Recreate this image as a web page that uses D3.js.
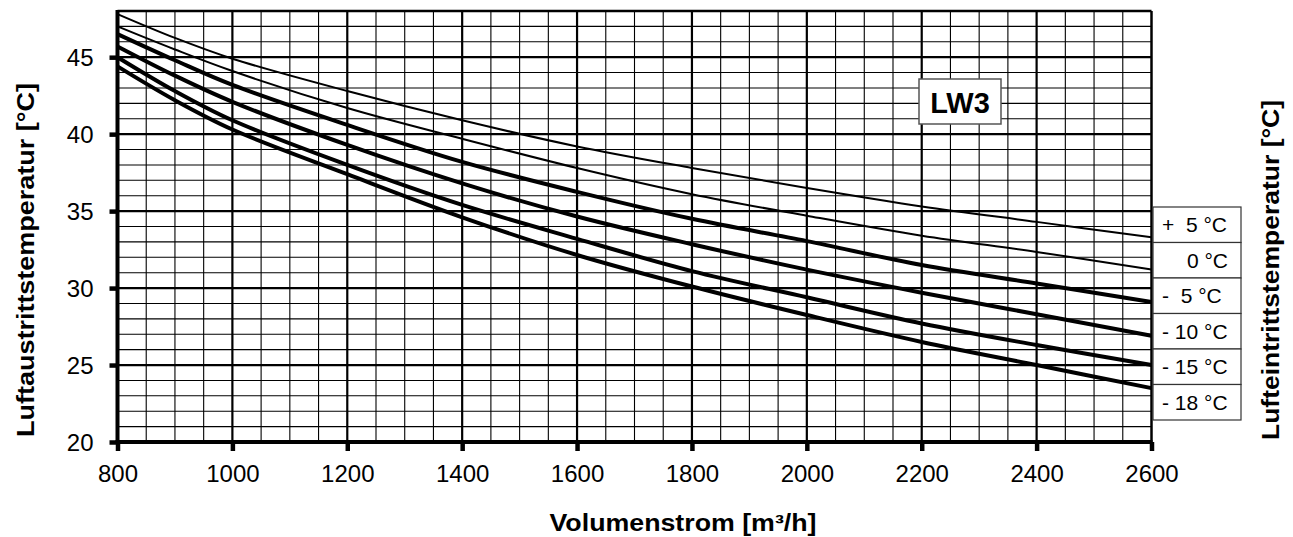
<!DOCTYPE html>
<html>
<head>
<meta charset="utf-8">
<script src="https://cdn.jsdelivr.net/npm/d3@7"></script>
<style>
  html, body { margin: 0; padding: 0; background: #fff; }
  svg { display: block; }
  text { font-family: "Liberation Sans", Arial, Helvetica, sans-serif; fill: #000; }
</style>
</head>
<body>
<svg id="chart" width="1293" height="537"></svg>
<script>
// ---- data ----
const flows = [800, 900, 1000, 1200, 1400, 1600, 1800, 2000, 2200, 2400, 2600];
const seriesPlus5   = [47.8, 46.25, 44.9, 42.8, 40.9, 39.2, 37.8, 36.5, 35.3, 34.3, 33.3];
const seriesZero    = [47.0, 45.5, 44.1, 41.7, 39.7, 37.8, 36.1, 34.7, 33.4, 32.35, 31.2];
const seriesMinus5  = [46.5, 44.8, 43.2, 40.6, 38.2, 36.25, 34.5, 33.05, 31.5, 30.3, 29.1];
const seriesMinus10 = [45.7, 43.8, 42.1, 39.3, 36.8, 34.65, 32.85, 31.2, 29.7, 28.3, 26.9];
const seriesMinus15 = [45.0, 42.8, 40.9, 38.0, 35.4, 33.2, 31.1, 29.4, 27.7, 26.3, 25.0];
const seriesMinus18 = [44.4, 42.2, 40.3, 37.4, 34.6, 32.15, 30.1, 28.25, 26.5, 25.0, 23.5];
const legendLabels = ["+  5 °C", "0 °C", "-  5 °C", "- 10 °C", "- 15 °C", "- 18 °C"];
const xTicks = [800, 1000, 1200, 1400, 1600, 1800, 2000, 2200, 2400, 2600];
const yTicks = [20, 25, 30, 35, 40, 45];
const xLabel = "Volumenstrom [m³/h]";
const yLabelLeft = "Luftaustrittstemperatur [°C]";
const yLabelRight = "Lufteintrittstemperatur [°C]";
const boxLabel = "LW3";

// ---- build ----
const series = [seriesPlus5, seriesZero, seriesMinus5, seriesMinus10, seriesMinus15, seriesMinus18];
const widths = [2, 2, 4, 4, 4, 4];

const svg = d3.select("#chart");
const x = d3.scaleLinear().domain([800, 2600]).range([117.5, 1151.5]);
const y = d3.scaleLinear().domain([20, 48]).range([442, 11]);

const grid = svg.append("g");
// minor grid
grid.selectAll("line.vmin").data(d3.range(850, 2600, 50).filter(v => v % 200 !== 0))
  .join("line").attr("x1", d => x(d)).attr("x2", d => x(d)).attr("y1", y(48)).attr("y2", y(20))
  .attr("stroke", "#000").attr("stroke-width", 1.1);
grid.selectAll("line.hmin").data(d3.range(21, 48, 1).filter(v => v % 5 !== 0))
  .join("line").attr("y1", d => y(d)).attr("y2", d => y(d)).attr("x1", x(800)).attr("x2", x(2600))
  .attr("stroke", "#000").attr("stroke-width", 1.1);
// major grid
grid.selectAll("line.vmaj").data(xTicks.slice(1, -1))
  .join("line").attr("x1", d => x(d)).attr("x2", d => x(d)).attr("y1", y(48)).attr("y2", y(20))
  .attr("stroke", "#000").attr("stroke-width", 2.2);
grid.selectAll("line.hmaj").data(yTicks.slice(1))
  .join("line").attr("y1", d => y(d)).attr("y2", d => y(d)).attr("x1", x(800)).attr("x2", x(2600))
  .attr("stroke", "#000").attr("stroke-width", 2.2);

// curves
const line = d3.line().x((d, i) => x(flows[i])).y(d => y(d)).curve(d3.curveCatmullRom.alpha(0.5));
svg.append("g").selectAll("path").data(series).join("path")
  .attr("d", d => line(d)).attr("fill", "none").attr("stroke", "#000")
  .attr("stroke-width", (d, i) => widths[i]).attr("stroke-linejoin", "round");

// frame
svg.append("line").attr("x1", x(800)).attr("x2", x(2600)).attr("y1", y(48)).attr("y2", y(48)).attr("stroke", "#000").attr("stroke-width", 2.5);
svg.append("line").attr("x1", x(2600)).attr("x2", x(2600)).attr("y1", y(48)).attr("y2", y(20)).attr("stroke", "#000").attr("stroke-width", 2.5);
svg.append("line").attr("x1", x(800)).attr("x2", x(800)).attr("y1", y(48) - 1).attr("y2", y(20) + 2).attr("stroke", "#000").attr("stroke-width", 4);
svg.append("line").attr("x1", x(800) - 2).attr("x2", x(2600) + 1).attr("y1", y(20)).attr("y2", y(20)).attr("stroke", "#000").attr("stroke-width", 4);

// axes
const ax = svg.append("g").attr("transform", `translate(${x(800)},0)`)
  .call(d3.axisLeft(y).tickValues(yTicks).tickSize(8).tickPadding(16).tickFormat(d3.format("d")));
ax.select(".domain").remove();
ax.selectAll(".tick line").attr("stroke", "#000").attr("stroke-width", 4.5);
ax.selectAll(".tick text").attr("font-size", 24).attr("font-family", "Liberation Sans, Arial, sans-serif").attr("dy", "0.36em");

const bx = svg.append("g").attr("transform", `translate(0,${y(20)})`)
  .call(d3.axisBottom(x).tickValues(xTicks).tickSize(9).tickPadding(14).tickFormat(d3.format("d")));
bx.select(".domain").remove();
bx.selectAll(".tick line").attr("stroke", "#000").attr("stroke-width", 4.5);
bx.selectAll(".tick text").attr("font-size", 24).attr("font-family", "Liberation Sans, Arial, sans-serif");

// axis titles
svg.append("text").attr("x", 683).attr("y", 531).attr("text-anchor", "middle")
  .attr("font-size", 23).attr("font-weight", "bold")
  .attr("textLength", 267).attr("lengthAdjust", "spacingAndGlyphs").text(xLabel);
svg.append("text").attr("transform", "translate(34,260) rotate(-90)").attr("text-anchor", "middle")
  .attr("font-size", 23).attr("font-weight", "bold")
  .attr("textLength", 354).attr("lengthAdjust", "spacingAndGlyphs").text(yLabelLeft);
svg.append("text").attr("transform", "translate(1279,270) rotate(-90)").attr("text-anchor", "middle")
  .attr("font-size", 23).attr("font-weight", "bold")
  .attr("textLength", 340).attr("lengthAdjust", "spacingAndGlyphs").text(yLabelRight);

// LW3 box
svg.append("rect").attr("x", 919).attr("y", 79).attr("width", 82).attr("height", 45)
  .attr("fill", "#fff").attr("stroke", "#555").attr("stroke-width", 1.5);
svg.append("text").attr("x", 960).attr("y", 113).attr("text-anchor", "middle")
  .attr("font-size", 29).attr("font-weight", "bold").text(boxLabel);

// legend table
const rowH = 35.5, legTop = 207, legLeft = 1153, legW = 88;
const leg = svg.append("g");
leg.selectAll("rect").data(legendLabels).join("rect")
  .attr("x", legLeft).attr("y", (d, i) => legTop + i * rowH).attr("width", legW).attr("height", rowH)
  .attr("fill", "#fff").attr("stroke", "#333").attr("stroke-width", 1.2);
leg.selectAll("text").data(legendLabels).join("text")
  .attr("xml:space", "preserve").style("white-space", "pre")
  .attr("x", d => (d[0] === "+" || d[0] === "-") ? 1162 : 1228)
  .attr("text-anchor", d => (d[0] === "+" || d[0] === "-") ? "start" : "end")
  .attr("y", (d, i) => legTop + i * rowH + rowH / 2 + 7.5)
  .attr("font-size", 21).text(d => d);
</script>
</body>
</html>
